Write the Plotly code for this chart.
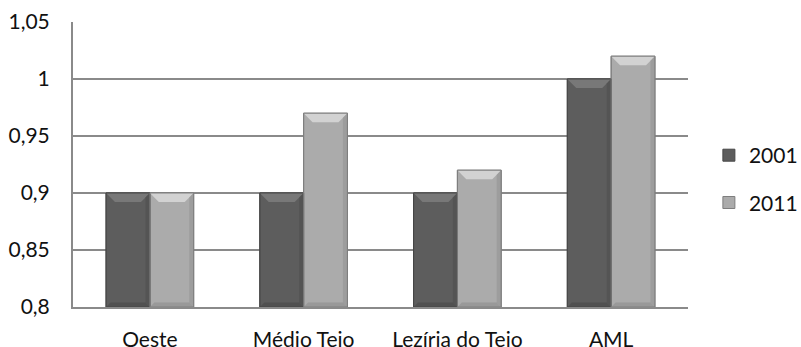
import plotly.graph_objects as go

categories = ["Oeste", "Médio Tejo", "Lezíria do Tejo", "AML"]
series_names = ["2001", "2011"]
values_2001 = [0.90, 0.90, 0.90, 1.00]
values_2011 = [0.90, 0.97, 0.92, 1.02]
y_ticks = [0.8, 0.85, 0.9, 0.95, 1.0, 1.05]
y_tick_labels = ["0,8", "0,85", "0,9", "0,95", "1", "1,05"]

font_family = "Lato, 'Open Sans', sans-serif"
Y_MIN, Y_MAX = 0.8, 1.05
BARGAP = 0.43

series = [
    (series_names[0], values_2001, dict(body="#5d5d5d", edge="#474747", top="#787878", right="#525252", bottom="#4e4e4e")),
    (series_names[1], values_2011, dict(body="#ababab", edge="#7e7e7e", top="#d2d2d2", right="#9a9a9a", bottom="#959595")),
]

fig = go.Figure()
for i, (name, vals, col) in enumerate(series):
    fig.add_trace(go.Bar(
        x=categories, y=vals, name=name, legendgroup=name,
        marker=dict(color=col["body"], line=dict(color=col["edge"], width=1)),
    ))

# bevel decoration derived from the bar geometry (category index + bar width)
bar_w = (1 - BARGAP) / len(series)
dx = 0.058   # horizontal bevel inset in category units
dy = 0.008   # vertical bevel inset in data units
shapes = []
for si, (name, vals, col) in enumerate(series):
    for ci, v in enumerate(vals):
        x0 = ci - (1 - BARGAP) / 2 + si * bar_w
        x1 = x0 + bar_w
        y0, y1 = Y_MIN, v
        shapes.append(dict(type="path", xref="x", yref="y", layer="above",
                           path=f"M {x0},{y1} L {x1},{y1} L {x1-dx},{y1-dy} L {x0+dx},{y1-dy} Z",
                           fillcolor=col["top"], line=dict(width=0)))
        shapes.append(dict(type="path", xref="x", yref="y", layer="above",
                           path=f"M {x1},{y1} L {x1},{y0} L {x1-dx/2},{y0+dy/2} L {x1-dx/2},{y1-dy/2} Z",
                           fillcolor=col["right"], line=dict(width=0), opacity=0.8))
        shapes.append(dict(type="path", xref="x", yref="y", layer="above",
                           path=f"M {x0},{y0} L {x1},{y0} L {x1-dx/2},{y0+dy/2} L {x0+dx/2},{y0+dy/2} Z",
                           fillcolor=col["bottom"], line=dict(width=0), opacity=0.8))
        shapes.append(dict(type="rect", xref="x", yref="y", layer="above",
                           x0=x0, x1=x1, y0=y0, y1=y1,
                           line=dict(color=col["edge"], width=1)))

fig.update_layout(
    width=801, height=347,
    margin=dict(l=73, r=113, t=22, b=40, autoexpand=False),
    paper_bgcolor="white", plot_bgcolor="white",
    barmode="group", bargap=BARGAP, bargroupgap=0,
    font=dict(family=font_family, size=21, color="#111111"),
    showlegend=True,
    legend=dict(xref="container", yref="container", x=0.885, y=0.484,
                xanchor="left", yanchor="middle",
                traceorder="grouped", tracegroupgap=17,
                font=dict(size=21), itemwidth=30),
    shapes=shapes,
    xaxis=dict(showline=True, linecolor="#8a8a8a", linewidth=2, automargin=False,
               ticks="", ticklabelstandoff=13, tickfont=dict(size=21)),
    yaxis=dict(range=[Y_MIN, Y_MAX], tickvals=y_ticks, ticktext=y_tick_labels,
               showgrid=True, gridcolor="#8a8a8a", gridwidth=2, automargin=False,
               showline=True, linecolor="#8a8a8a", linewidth=2,
               zeroline=False, ticks="", ticklabelstandoff=17, tickfont=dict(size=21)),
)

fig.write_html("out.html", config={"displayModeBar": False},
               post_script="document.body.style.margin='0';document.body.style.overflow='hidden';")
